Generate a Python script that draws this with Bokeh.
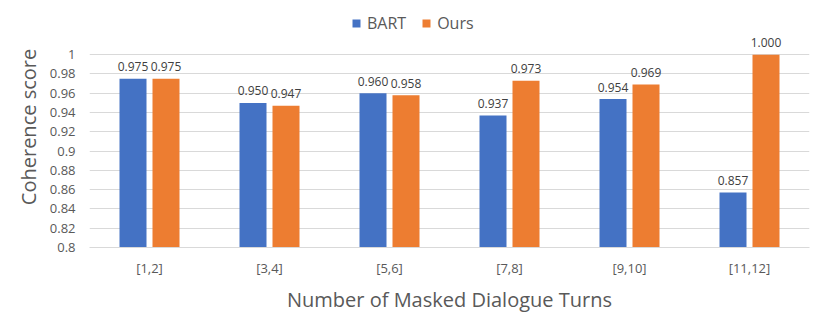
from bokeh.plotting import figure
from bokeh.models import ColumnDataSource, FactorRange, Range1d, FixedTicker, CustomJSTickFormatter, Legend, LegendItem
from bokeh.core.properties import value
from bokeh.transform import dodge
from bokeh.embed import file_html
from bokeh.resources import INLINE

categories = ["[1,2]", "[3,4]", "[5,6]", "[7,8]", "[9,10]", "[11,12]"]
bart = [0.975, 0.950, 0.960, 0.937, 0.954, 0.857]
ours = [0.975, 0.947, 0.958, 0.973, 0.969, 1.000]
y_ticks = [0.8, 0.82, 0.84, 0.86, 0.88, 0.9, 0.92, 0.94, 0.96, 0.98, 1.0]

FONT = "Open Sans"
BLUE = "#4472C4"
ORANGE = "#ED7D31"

src = ColumnDataSource(dict(
    cat=categories,
    bart=bart,
    ours=ours,
    bart_lbl=[f"{v:.3f}" for v in bart],
    ours_lbl=[f"{v:.3f}" for v in ours],
))

p = figure(width=830, height=325, x_range=FactorRange(*categories), y_range=Range1d(0.8, 1.05),
           output_backend="svg", toolbar_location=None,
           min_border_left=89, min_border_right=21, min_border_top=6, min_border_bottom=78)
p.outline_line_color = None
p.styles = {"outline": "1px solid #d9d9d9", "outline-offset": "-2px"}

off = 0.1375
w = 0.225
r1 = p.vbar(x=dodge("cat", -off, range=p.x_range), top="bart", bottom=0.8, width=w, source=src,
            fill_color=BLUE, line_color=None)
r2 = p.vbar(x=dodge("cat", off, range=p.x_range), top="ours", bottom=0.8, width=w, source=src,
            fill_color=ORANGE, line_color=None)

p.text(x=dodge("cat", -off, range=p.x_range), y="bart", text="bart_lbl", source=src,
       text_align="center", text_baseline="middle", y_offset=-12,
       text_font=value(FONT), text_font_size="12px", text_color="#404040")
p.text(x=dodge("cat", off, range=p.x_range), y="ours", text="ours_lbl", source=src,
       text_align="center", text_baseline="middle", y_offset=-12,
       text_font=value(FONT), text_font_size="12px", text_color="#404040")

# grid
p.xgrid.grid_line_color = None
p.ygrid.grid_line_color = "#d9d9d9"
p.ygrid.grid_line_width = 1

# y axis
p.yaxis.ticker = FixedTicker(ticks=y_ticks)
p.yaxis.formatter = CustomJSTickFormatter(code="return String(parseFloat(tick.toFixed(2)));")
p.yaxis.axis_line_color = None
p.yaxis.major_tick_line_color = None
p.yaxis.minor_tick_line_color = None
p.yaxis.major_tick_out = 0
p.yaxis.major_tick_in = 0
p.yaxis.major_label_standoff = 14
p.yaxis.major_label_text_font = FONT
p.yaxis.major_label_text_font_size = "13px"
p.yaxis.major_label_text_color = "#595959"
p.yaxis.axis_label = "Coherence score"
p.yaxis.axis_label_text_font = FONT
p.yaxis.axis_label_text_font_size = "20px"
p.yaxis.axis_label_text_font_style = "normal"
p.yaxis.axis_label_text_color = "#595959"
p.yaxis.axis_label_standoff = 5

# x axis
p.xaxis.axis_line_color = "#d9d9d9"
p.xaxis.major_tick_line_color = None
p.xaxis.minor_tick_line_color = None
p.xaxis.major_tick_out = 0
p.xaxis.major_tick_in = 0
p.xaxis.major_label_standoff = 11
p.xaxis.major_label_text_font = FONT
p.xaxis.major_label_text_font_size = "13px"
p.xaxis.major_label_text_color = "#595959"
p.xaxis.axis_label = "Number of Masked Dialogue Turns"
p.xaxis.axis_label_text_font = FONT
p.xaxis.axis_label_text_font_size = "20px"
p.xaxis.axis_label_text_font_style = "normal"
p.xaxis.axis_label_text_color = "#595959"
p.xaxis.axis_label_standoff = 6

legend = Legend(items=[LegendItem(label="BART", renderers=[r1]), LegendItem(label="Ours", renderers=[r2])],
                orientation="horizontal", location=(262, 213),
                glyph_width=10, glyph_height=10, label_standoff=6, spacing=15,
                padding=0, margin=0, border_line_color=None, background_fill_alpha=0,
                label_text_font=FONT, label_text_font_size="16px", label_text_color="#595959")
p.add_layout(legend, "center")

open("out.html", "w").write(file_html(p, INLINE))
